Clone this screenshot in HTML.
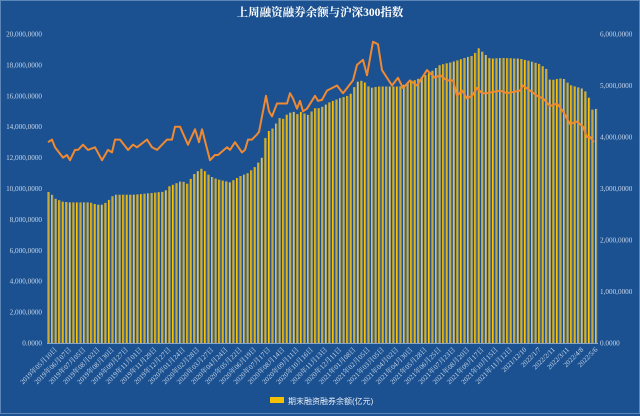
<!DOCTYPE html>
<html><head><meta charset="utf-8"><style>
html,body{margin:0;padding:0;background:#1b5190;}
svg{display:block;}
</style></head><body>
<svg id="c" width="640" height="416" xmlns="http://www.w3.org/2000/svg" font-family="'Liberation Serif','Noto Serif CJK SC',serif">
<rect x="0" y="0" width="640" height="416" fill="#1b5190"/>
<rect x="0.5" y="0.5" width="639" height="413" fill="none" stroke="#5d86b8" stroke-width="1"/>
<text x="320" y="16" text-anchor="middle" fill="#ffffff" font-size="11.5" font-weight="bold">上周融资融券余额与沪深300指数</text>
<g id="g"></g>
<rect x="270" y="397" width="14" height="6" fill="#f5c000"/>
<text x="288" y="404" fill="#e8eef8" font-size="8" font-family="'Liberation Sans','Noto Sans CJK SC',sans-serif">期末融资融券余额(亿元)</text>
</svg>
<script>
var g=document.getElementById('g');var ns='http://www.w3.org/2000/svg';
function el(t,a,txt){var e=document.createElementNS(ns,t);for(var k in a)e.setAttribute(k,a[k]);if(txt!=null)e.textContent=txt;g.appendChild(e);return e;}
var Y0=343,H=309;
function interp(pts,x){if(x<=pts[0][0])return pts[0][1];for(var i=1;i<pts.length;i++){if(x<=pts[i][0]){var a=pts[i-1],b=pts[i];return a[1]+(b[1]-a[1])*(x-a[0])/(b[0]-a[0]);}}return pts[pts.length-1][1];}
// dates
var dates=[];var d=new Date(Date.UTC(2019,3,26));var end=Date.UTC(2022,4,6);
var skip={'2019-10-04':1,'2020-01-31':1,'2020-10-02':1,'2022-02-04':1};
while(d.getTime()<=end){var s=d.toISOString().slice(0,10);if(!skip[s])dates.push(new Date(d.getTime()));d=new Date(d.getTime()+7*864e5);}
var N=dates.length,X0=48.5,X1=596;var step=(X1-X0)/(N-1);
var bars=[[48,9.8],[52,9.6],[55,9.35],[59,9.25],[62,9.15],[70,9.1],[80,9.1],[90,9.1],[97,8.95],[103,8.95],[108,9.2],[114,9.6],[120,9.6],[135,9.6],[150,9.7],[165,9.8],[168,10.1],[175,10.3],[182,10.5],[187,10.3],[195,11.0],[202,11.3],[210,10.8],[217,10.6],[230,10.4],[235,10.6],[240,10.8],[248,11.0],[255,11.4],[262,12.0],[266,13.5],[270,13.8],[273,13.9],[277,14.3],[280,14.6],[283,14.5],[287,14.8],[293,15.0],[297,14.8],[302,15.0],[307,14.7],[315,15.2],[320,15.2],[330,15.6],[340,15.85],[350,16.05],[357,16.9],[363,17.0],[370,16.5],[378,16.6],[400,16.6],[407,16.8],[420,17.15],[430,17.5],[440,18.0],[453,18.2],[467,18.5],[473,18.6],[479,19.1],[483,18.8],[490,18.4],[503,18.45],[520,18.4],[530,18.25],[540,18.05],[547,17.7],[550,17.0],[563,17.15],[570,16.7],[583,16.45],[588,16.1],[592,15.1],[596,15.15]];
for(var i=0;i<N;i++){var x=X0+i*step;var v=interp(bars,x);var y=Y0-v/20*H;
el('rect',{x:(x-1).toFixed(2),y:y.toFixed(1),width:1.2,height:(Y0-y).toFixed(1),fill:'#ffc000'});
el('rect',{x:(x+0.2).toFixed(2),y:y.toFixed(1),width:1.0,height:(Y0-y).toFixed(1),fill:'#a8a47a'});}
var line=[[48,3.9],[52,3.95],[55,3.8],[63,3.6],[67,3.65],[70,3.55],[75,3.75],[78,3.75],[83,3.85],[88,3.75],[95,3.8],[102,3.55],[108,3.75],[112,3.7],[115,3.95],[120,3.95],[128,3.75],[133,3.85],[137,3.8],[147,3.95],[152,3.8],[157,3.75],[167,3.95],[172,3.95],[175,4.2],[180,4.2],[188,3.85],[195,4.15],[199,3.9],[202,4.15],[210,3.55],[215,3.65],[218,3.65],[227,3.8],[230,3.75],[235,3.9],[242,3.7],[245,3.75],[248,3.95],[252,3.95],[257,4.05],[259,4.1],[266,4.8],[269,4.5],[272,4.4],[277,4.65],[287,4.65],[290,4.85],[293,4.75],[297,4.55],[300,4.7],[303,4.5],[307,4.55],[315,4.8],[318,4.7],[322,4.72],[327,4.9],[337,5.0],[343,4.85],[353,5.1],[357,5.4],[363,5.5],[367,5.2],[373,5.85],[378,5.8],[382,5.3],[392,5.0],[398,5.15],[403,4.95],[410,5.1],[417,5.0],[427,5.3],[435,5.15],[440,5.2],[447,5.1],[453,5.1],[457,4.8],[462,4.9],[467,4.75],[472,4.8],[477,4.95],[482,4.85],[487,4.85],[500,4.9],[507,4.85],[520,4.9],[523,5.0],[530,4.9],[537,4.8],[543,4.75],[550,4.6],[557,4.65],[563,4.5],[570,4.25],[577,4.3],[583,4.2],[587,4.0],[590,4.0],[594,3.9]];
var p='';for(var i=0;i<line.length;i++){p+=(i?'L':'M')+line[i][0]+' '+(Y0-line[i][1]/6*H).toFixed(1);}
el('path',{d:p,fill:'none',stroke:'#f08a32','stroke-width':2,'stroke-linejoin':'round'});
el('line',{x1:47,y1:Y0+0.5,x2:598,y2:Y0+0.5,stroke:'#8aa4c8','stroke-width':1});
// left axis
var L=['0.0000','2,000.0000','4,000.0000','6,000.0000','8,000.0000','10,000.0000','12,000.0000','14,000.0000','16,000.0000','18,000.0000','20,000.0000'];
L=['0.0000','2,000,0000','4,000,0000','6,000,0000','8,000,0000','10,000,0000','12,000,0000','14,000,0000','16,000,0000','18,000,0000','20,000,0000'];
for(var i=0;i<=10;i++){el('text',{x:42,y:(Y0-i*H/10+2.5).toFixed(1),'text-anchor':'end',fill:'#c8d6ea','font-size':7.2},L[i]);}
var R=['0.0000','1,000,0000','2,000,0000','3,000,0000','4,000,0000','5,000,0000','6,000,0000'];
for(var i=0;i<=6;i++){el('text',{x:600,y:(Y0-i*H/6+2.5).toFixed(1),fill:'#c8d6ea','font-size':7.2},R[i]);}
function pad(n){return (n<10?'0':'')+n;}
for(var i=N-1;i>=0;i-=4){var dt=dates[i];var yy=dt.getUTCFullYear(),mm=dt.getUTCMonth()+1,dd=dt.getUTCDate();
var s=(dt.getTime()>=Date.UTC(2021,11,10))?(yy+'/'+mm+'/'+dd):(yy+'年'+pad(mm)+'月'+pad(dd)+'日');
var x=X0+i*step+2;
el('text',{x:x.toFixed(1),y:350,'text-anchor':'end',fill:'#c8d6ea','font-size':7,transform:'rotate(-45 '+x.toFixed(1)+' 350)'},s);}
</script>
</body></html>
